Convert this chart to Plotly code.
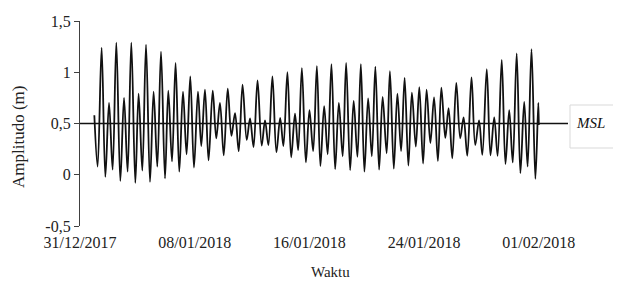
import pandas as pd
import plotly.graph_objects as go

# Hours since 31/12/2017 00:00 of each turning point of the water level
hours = [24.0, 29.5, 36.2, 42.4, 48.6, 54.6, 60.8, 67.5, 73.7, 79.7,
         85.9, 92.6, 98.1, 104.3, 110.5, 117.2, 123.2, 129.4, 135.6, 142.3,
         147.8, 154.0, 160.0, 166.2, 172.4, 178.4, 184.6, 190.8, 197.5, 203.0,
         209.2, 215.2, 222.2, 228.1, 234.3, 240.6, 247.3, 253.5, 259.5, 265.7,
         272.1, 279.1, 284.6, 290.5, 297.2, 304.2, 309.7, 315.4, 322.1, 328.8,
         335.1, 340.5, 347.2, 353.5, 359.9, 365.2, 371.4, 378.1, 384.1, 390.3,
         396.5, 402.4, 408.7, 414.6, 420.9, 427.1, 433.3, 439.7, 445.5, 452.2,
         458.1, 464.4, 470.1, 476.1, 482.3, 488.5, 494.4, 500.7, 506.6, 513.3,
         518.8, 525.3, 531.3, 537.5, 543.4, 549.7, 555.6, 562.1, 568.0, 574.3,
         580.2, 586.5, 592.7, 599.1, 604.9, 611.5, 617.0, 623.2, 629.9, 636.5,
         642.1, 648.3, 655.4, 661.6, 668.0, 673.5, 680.9, 687.1, 693.4, 699.1,
         706.0, 712.2, 718.5, 724.4, 731.0, 737.2, 743.6, 749.3, 755.8, 762.3,
         767.2, 768.0]

# Water level (m) at those turning points
amplitude = [0.58, 0.08, 1.24, -0.02, 0.70, 0.05, 1.29, -0.06, 0.75, 0.03,
             1.29, -0.08, 0.79, 0.04, 1.27, -0.07, 0.81, 0.08, 1.20, -0.035,
             0.82, 0.13, 1.09, 0.03, 0.81, 0.20, 0.96, 0.07, 0.81, 0.28,
             0.83, 0.14, 0.82, 0.355, 0.70, 0.19, 0.84, 0.38, 0.60, 0.23,
             0.88, 0.34, 0.55, 0.27, 0.92, 0.285, 0.53, 0.29, 0.96, 0.22,
             0.555, 0.28, 1.00, 0.17, 0.595, 0.24, 1.04, 0.12, 0.63, 0.23,
             1.06, 0.085, 0.67, 0.20, 1.08, 0.055, 0.70, 0.18, 1.09, 0.045,
             0.72, 0.175, 1.08, 0.03, 0.745, 0.18, 1.055, 0.05, 0.76, 0.21,
             1.01, 0.06, 0.79, 0.23, 0.945, 0.09, 0.80, 0.275, 0.855, 0.11,
             0.83, 0.31, 0.755, 0.135, 0.85, 0.36, 0.65, 0.16, 0.895, 0.355,
             0.56, 0.185, 0.95, 0.29, 0.53, 0.195, 1.03, 0.19, 0.56, 0.185,
             1.12, 0.105, 0.63, 0.12, 1.185, 0.015, 0.71, 0.08, 1.225, -0.04,
             0.70, 0.485]

msl_level = 0.5
x_start = "2017-12-31 00:00"
x_end = "2018-02-03 00:54"

tick_dates = ["2017-12-31", "2018-01-08", "2018-01-16", "2018-01-24", "2018-02-01"]
tick_date_text = ["31/12/2017", "08/01/2018", "16/01/2018", "24/01/2018", "01/02/2018"]
y_tick_vals = [-0.5, 0, 0.5, 1, 1.5]
y_tick_text = ["-0,5", "0", "0,5", "1", "1,5"]

base = pd.Timestamp("2017-12-31")
times = base + pd.to_timedelta(hours, unit="h")

FONT = "Liberation Serif"

fig = go.Figure()
fig.add_trace(go.Scatter(
    x=times, y=amplitude, mode="lines",
    line=dict(color="#111111", width=1.8, shape="spline", smoothing=1.0),
    showlegend=False, hoverinfo="skip"))
fig.add_trace(go.Scatter(
    x=[x_start, x_end], y=[msl_level, msl_level], mode="lines",
    line=dict(color="#111111", width=1.5),
    showlegend=False, hoverinfo="skip"))

# page body adds an 8px offset; figure is sized so it still fills 621x282
OFF = 8
W, H = 621 - OFF, 282 - OFF
L, R, T, B = 80 - OFF, 53, 21 - OFF, 56
pw = W - L - R
ph = H - T - B

def px_x(p):
    return (p - OFF - L) / pw

def px_y(p):
    return (H - B - (p - OFF)) / ph

fig.add_shape(type="rect", xref="paper", yref="paper",
              x0=px_x(570), x1=px_x(640), y0=px_y(148), y1=px_y(105),
              line=dict(color="#d9d9d9", width=1), fillcolor="white", layer="below")
fig.add_annotation(text="<i>MSL</i>", xref="paper", yref="paper",
                   x=px_x(590), y=px_y(122.5), xanchor="center", yanchor="middle",
                   showarrow=False, font=dict(family=FONT, size=15, color="#111111"))
fig.add_annotation(text="Amplitudo (m)", xref="paper", yref="paper",
                   x=px_x(18), y=px_y(137), xanchor="center", yanchor="middle",
                   textangle=-90, showarrow=False,
                   font=dict(family=FONT, size=17, color="#222222"))
fig.add_annotation(text="Waktu", xref="paper", yref="paper",
                   x=px_x(330), y=px_y(272), xanchor="center", yanchor="middle",
                   showarrow=False, font=dict(family=FONT, size=15, color="#222222"))

fig.update_layout(
    width=W, height=H,
    margin=dict(l=L, r=R, t=T, b=B, pad=0, autoexpand=False),
    paper_bgcolor="white", plot_bgcolor="white",
    font=dict(family=FONT, size=14, color="#222222"),
    showlegend=False,
)
fig.update_xaxes(
    type="date", range=[x_start, x_end],
    tickvals=tick_dates, ticktext=tick_date_text,
    showgrid=False, zeroline=False, showline=False, ticks="",
    ticklabelstandoff=5, tickfont=dict(family=FONT, size=16),
)
fig.update_yaxes(
    range=[-0.5, 1.5], tickvals=y_tick_vals, ticktext=y_tick_text,
    showgrid=False, zeroline=False, showline=True, linecolor="#404040", linewidth=1.2,
    ticks="outside", ticklen=5, tickcolor="#404040", tickwidth=1.2,
    tickfont=dict(family=FONT, size=16),
)

fig.write_html("out.html")
